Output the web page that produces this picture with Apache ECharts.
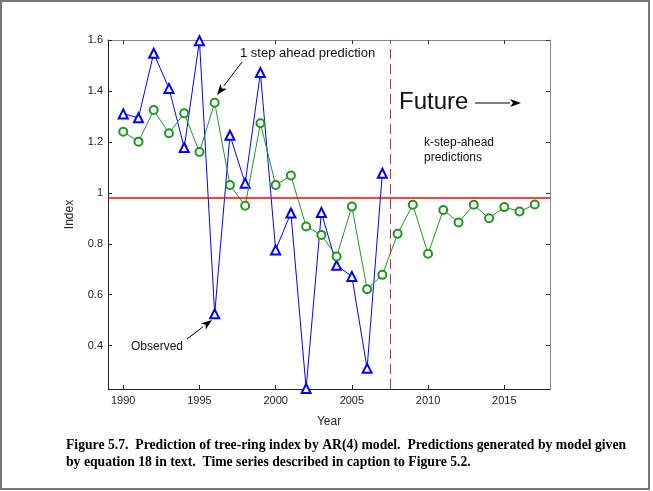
<!DOCTYPE html>
<html>
<head>
<meta charset="utf-8">
<script src="https://cdn.jsdelivr.net/npm/echarts@6/dist/echarts.min.js"></script>
<style>
  html, body { margin: 0; padding: 0; background: #fff; }
  #chart { width: 653px; height: 491px; }
</style>
</head>
<body>
<div id="chart"></div>
<script>
// years of the observed series and of the prediction series
const obsYears = [1990, 1991, 1992, 1993, 1994, 1995, 1996, 1997, 1998, 1999,
  2000, 2001, 2002, 2003, 2004, 2005, 2006, 2007]
const observed = [1.31, 1.295, 1.548, 1.41, 1.178, 1.597, 0.525, 1.226, 1.038, 1.472,
  0.776, 0.921, 0.232, 0.923, 0.716, 0.672, 0.311, 1.077]

const predYears = [1990, 1991, 1992, 1993, 1994, 1995, 1996, 1997, 1998, 1999,
  2000, 2001, 2002, 2003, 2004, 2005, 2006, 2007, 2008, 2009,
  2010, 2011, 2012, 2013, 2014, 2015, 2016, 2017]
const predicted = [1.24, 1.201, 1.325, 1.234, 1.312, 1.16, 1.354, 1.031, 0.949, 1.273,
  1.031, 1.068, 0.868, 0.835, 0.75, 0.946, 0.622, 0.678, 0.839, 0.953,
  0.761, 0.933, 0.884, 0.953, 0.9, 0.944, 0.927, 0.954]

const xTicks = [1990, 1995, 2000, 2005, 2010, 2015]
const yTicks = [0.4, 0.6, 0.8, 1, 1.2, 1.4, 1.6]
const meanLevel = 0.985
const futureStart = 2007.5

const caption = [
  'Figure 5.7.  Prediction of tree-ring index by AR(4) model.  Predictions generated by model given',
  'by equation 18 in text.  Time series described in caption to Figure 5.2.'
]

const FONT = '"Liberation Sans", Arial, sans-serif'
const CAPTION_FONT = 'bold 13.7px "Liberation Serif", "Times New Roman", serif'

// line with a filled arrowhead at (x2, y2)
const arrow = (x1, y1, x2, y2) => {
  const ang = Math.atan2(y2 - y1, x2 - x1)
  const len = 11, half = 4
  const bx = x2 - len * Math.cos(ang), by = y2 - len * Math.sin(ang)
  const px = -Math.sin(ang) * half, py = Math.cos(ang) * half
  return [
    { type: 'line', shape: { x1, y1, x2: bx, y2: by }, style: { stroke: '#000', lineWidth: 1 } },
    { type: 'polygon', shape: { points: [[x2, y2], [bx + px, by + py], [bx + 3 * Math.cos(ang), by + 3 * Math.sin(ang)], [bx - px, by - py]] },
      style: { fill: '#000' } }
  ]
}

const label = (text, x, y, size, extra) => ({
  type: 'text', x, y,
  style: Object.assign({ text, fill: '#111', font: size + 'px ' + FONT, textVerticalAlign: 'middle' }, extra || {})
})

const chart = echarts.init(document.getElementById('chart'), null, { renderer: 'canvas' })

chart.setOption({
  backgroundColor: '#fff',
  animation: false,
  grid: { left: 108, top: 40, width: 442, height: 349, show: false },
  xAxis: [{
    type: 'value', min: 1989, max: 2018,
    axisLine: { lineStyle: { color: '#222', width: 1 } },
    axisTick: { inside: true, length: 4, customValues: xTicks, lineStyle: { color: '#222' } },
    axisLabel: { customValues: xTicks, formatter: v => String(v), color: '#222', fontSize: 11, fontFamily: FONT, margin: 6 },
    splitLine: { show: false },
    name: 'Year', nameLocation: 'middle', nameGap: 27,
    nameTextStyle: { color: '#222', fontSize: 12, fontFamily: FONT }
  }, {
    type: 'value', min: 1989, max: 2018, position: 'top',
    axisLine: { lineStyle: { color: '#888', width: 1 } },
    axisTick: { inside: true, length: 4, customValues: xTicks, lineStyle: { color: '#333' } },
    axisLabel: { show: false }, splitLine: { show: false }
  }],
  yAxis: [{
    type: 'value', min: 0.23, max: 1.6,
    axisLine: { show: true, lineStyle: { color: '#222', width: 1 } },
    axisTick: { show: true, inside: true, length: 4, customValues: yTicks, lineStyle: { color: '#222' } },
    axisLabel: { customValues: yTicks, color: '#222', fontSize: 11, fontFamily: FONT, margin: 5 },
    splitLine: { show: false },
    name: 'Index', nameLocation: 'middle', nameGap: 32, nameRotate: 90,
    nameTextStyle: { color: '#222', fontSize: 12, fontFamily: FONT }
  }, {
    type: 'value', min: 0.23, max: 1.6, position: 'right',
    axisLine: { show: true, lineStyle: { color: '#888', width: 1 } },
    axisTick: { show: true, inside: true, length: 4, customValues: yTicks, lineStyle: { color: '#333' } },
    axisLabel: { show: false }, splitLine: { show: false }
  }],
  series: [{
    name: 'Observed',
    type: 'line',
    data: obsYears.map((y, i) => [y, observed[i]]),
    symbol: 'emptyTriangle',
    symbolSize: 9,
    lineStyle: { color: '#0000ff', width: 1 },
    itemStyle: { color: '#0000ff', borderWidth: 1 },
    z: 3,
    markLine: {
      silent: true, symbol: 'none', label: { show: false },
      data: [
        { yAxis: meanLevel, lineStyle: { color: '#ff0000', width: 1.5, type: 'solid' } },
        { xAxis: futureStart, lineStyle: { color: '#c8323c', width: 1, type: [10, 5] } }
      ]
    }
  }, {
    name: 'Predicted',
    type: 'line',
    data: predYears.map((y, i) => [y, predicted[i]]),
    symbol: 'emptyCircle',
    symbolSize: 8,
    lineStyle: { color: '#1f961f', width: 1 },
    itemStyle: { color: '#1f961f', borderWidth: 1 },
    z: 4
  }],
  graphic: [
    { type: 'rect', shape: { x: 1, y: 1, width: 648, height: 488 }, style: { fill: null, stroke: '#777', lineWidth: 2 }, silent: true },
    label('1 step ahead prediction', 240, 53, 13),
    ...arrow(242, 62, 217, 95),
    label('Observed', 131, 347, 12),
    ...arrow(187, 339, 212, 320),
    label('Future', 399, 102, 24),
    ...arrow(475, 103, 521, 103),
    label('k-step-ahead', 424, 143, 12),
    label('predictions', 424, 158, 12),
    label(caption[0], 66, 445, 13.7, { font: CAPTION_FONT, fill: '#000' }),
    label(caption[1], 66, 462, 13.7, { font: CAPTION_FONT, fill: '#000' })
  ]
})
</script>
</body>
</html>
